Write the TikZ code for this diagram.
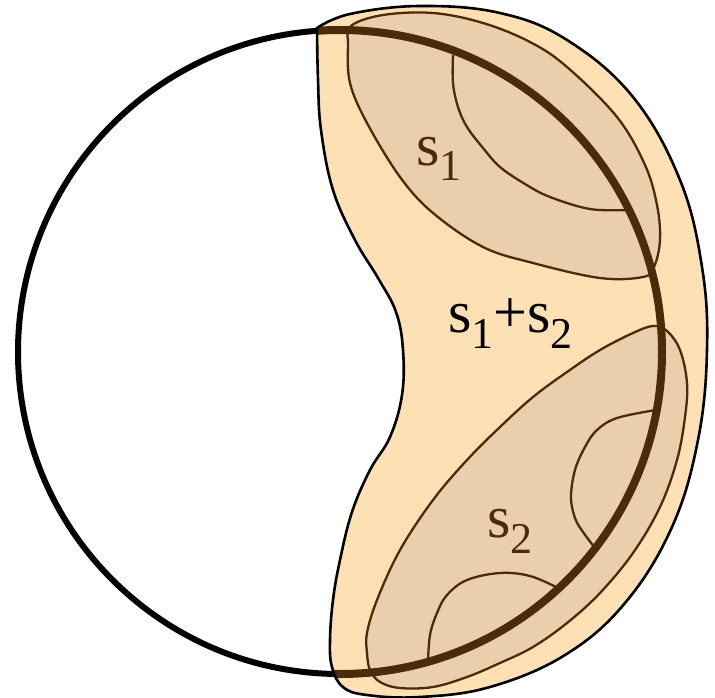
\documentclass[tikz,border=0pt]{standalone}
\usepackage{fontspec}
\setmainfont{Liberation Serif}
\definecolor{peach}{RGB}{253,225,181}
\definecolor{tan}{RGB}{235,207,172}
\definecolor{dbrown}{RGB}{74,44,10}
\newcommand\subs[1]{\raisebox{-16pt}{\fontsize{44}{44}\selectfont #1}}
\tikzset{
  lab/.style={anchor=base west, inner sep=0pt, font=\rmfamily\fontsize{60}{72}\selectfont},
  thin line/.style={draw=dbrown, line width=2.3pt},
}
\begin{document}
\begin{tikzpicture}[x=1pt,y=-1pt]
\useasboundingbox (0,0) rectangle (715,698);
% circle
\coordinate (c) at (340,352);
\draw[line width=6pt, black] (c) circle (322);
% blob
\def\blob{plot[smooth, tension=0.65] coordinates {(317,28) (350,14) (420,6) (500,13) (567,40) (633,97) (680,180) (702,267) (707,350) (698,440) (672,527) (625,603) (565,655) (490,687) (420,697) (367,695) (343,687) (332,667) (330,640) (333,600) (340,560) (352,512) (370,470) (390,437) (402,395) (403,350) (396,312) (378,278) (355,240) (333,190) (321,130) (318,80) (317,28)} -- cycle}
\fill[peach] \blob;
% upper ellipse
\filldraw[fill=tan, thin line] plot[smooth cycle, tension=0.6] coordinates {(351,26) (383,15) (433,13) (483,23) (530,42) (567,67) (617,117) (645,165) (657,205) (660,240) (654,267) (643,277) (600,278) (533,263) (483,247) (433,213) (400,177) (367,123) (350,83) (348,45)};
% lower ellipse
\filldraw[fill=tan, thin line] plot[smooth cycle, tension=0.6] coordinates {(653,326) (667,331) (680,350) (687,383) (685,417) (677,460) (660,507) (633,553) (600,593) (567,623) (533,647) (500,663) (467,677) (433,687) (400,688) (380,682) (370,670) (367,653) (367,633) (377,600) (400,550) (433,500) (467,460) (500,427) (533,397) (567,372) (600,350) (633,333)};
% inner curves
\draw[thin line] plot[smooth, tension=0.6] coordinates {(453,55) (453,83) (458,107) (467,127) (483,148) (500,167) (525,184) (550,197) (590,209) (628,210)};
\draw[thin line] plot[smooth, tension=0.6] coordinates {(656,410) (617,418) (597,430) (585,447) (575,470) (571,497) (575,518) (583,532) (595,548)};
\draw[thin line] plot[smooth, tension=0.6] coordinates {(558,588) (530,576) (500,573) (467,580) (447,595) (437,613) (430,635) (428,662)};
% arc inside blob
\begin{scope}
\clip \blob;
\draw[line width=8pt, dbrown] (c) circle (322);
\end{scope}
\draw[line width=2.6pt, black] \blob;
% labels
\node[lab, text=dbrown] (s1) at (416,165) {s\subs{1}};
\node[lab, text=dbrown] (s2) at (487,537) {s\subs{2}};
\node[lab, text=black] (s12) at (448,332) {s\subs{1}+s\subs{2}};
\end{tikzpicture}
\end{document}
